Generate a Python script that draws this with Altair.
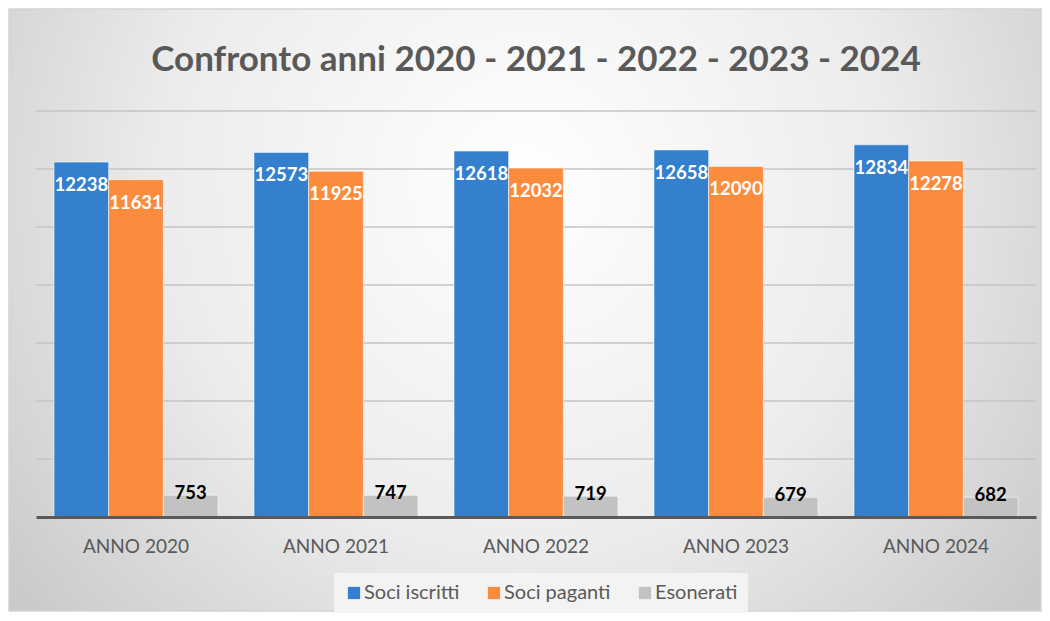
import altair as alt
import pandas as pd

YEARS = ["ANNO 2020", "ANNO 2021", "ANNO 2022", "ANNO 2023", "ANNO 2024"]
SERIES = ["Soci iscritti", "Soci paganti", "Esonerati"]
ISCRITTI = [12238, 12573, 12618, 12658, 12834]
PAGANTI = [11631, 11925, 12032, 12090, 12278]
ESONERATI = [753, 747, 719, 679, 682]
GRID_TICKS = [2000, 4000, 6000, 8000, 10000, 12000, 14000]
COLORS = ["#3480cf", "#fb8c3e", "#c2c2c2"]
TITLE = "Confronto anni 2020 - 2021 - 2022 - 2023 - 2024"

rows = []
for i, y in enumerate(YEARS):
    for s, vals in zip(SERIES, [ISCRITTI, PAGANTI, ESONERATI]):
        rows.append({"anno": y, "serie": s, "valore": vals[i]})
df = pd.DataFrame(rows)

FONT = "Lato"
W, H = 1000, 406

yscale = alt.Scale(domain=[0, 14000], nice=False, zero=True)
xenc = alt.X(
    "anno:N",
    scale=alt.Scale(domain=YEARS, paddingInner=0.18, paddingOuter=0.09),
    axis=alt.Axis(
        title=None, labelAngle=0, ticks=False, labelPadding=20,
        labelFont=FONT, labelFontSize=19, labelColor="#595959",
        domainColor="#595959", domainWidth=3, zindex=1,
    ),
)
xoff = alt.XOffset("serie:N", scale=alt.Scale(domain=SERIES, paddingInner=0.0))

bg = alt.Chart(alt.Data(values=[{"k": 1}])).mark_rect(
    fill={
        "gradient": "radial",
        "x1": 0.5, "y1": 0.38, "r1": 0.0,
        "x2": 0.5, "y2": 0.38, "r2": 0.78,
        "stops": [
            {"offset": 0.0, "color": "#ffffff"},
            {"offset": 0.45, "color": "#ececec"},
            {"offset": 1.0, "color": "#b8b8b8"},
        ],
    },
    stroke="#d4d4d4", strokeWidth=1.5,
).encode(
    x=alt.value(-27), x2=alt.value(1005), y=alt.value(-102), y2=alt.value(500)
)

grid = alt.Chart(pd.DataFrame({"v": GRID_TICKS})).mark_rule(
    color="#c4c4c4", strokeWidth=1.3
).encode(
    y=alt.Y("v:Q", scale=yscale, axis=None),
    x=alt.value(0), x2=alt.value("width"),
)

bars = alt.Chart(df).mark_bar(stroke="#ffffff", strokeOpacity=0.55, strokeWidth=1).encode(
    x=xenc,
    xOffset=xoff,
    y=alt.Y("valore:Q", scale=yscale, axis=None),
    color=alt.Color(
        "serie:N",
        scale=alt.Scale(domain=SERIES, range=COLORS),
        legend=alt.Legend(
            title=None, orient="none", direction="horizontal",
            legendX=298, legendY=462,
            symbolType="square", symbolSize=150, symbolStrokeWidth=0,
            labelFont=FONT, labelFontSize=20, labelColor="#595959",
            columnPadding=24, labelOffset=0, padding=10,
            fillColor="#f3f3f3",
        ),
    ),
)

top_labels = alt.Chart(df).transform_filter(
    alt.datum.serie != "Esonerati"
).mark_text(
    font=FONT, fontSize=18.5, fontWeight="bold", color="white",
    baseline="middle", dy=23,
).encode(
    x=xenc, xOffset=xoff,
    y=alt.Y("valore:Q", scale=yscale, axis=None),
    text=alt.Text("valore:Q", format="d"),
)

gray_labels = alt.Chart(df).transform_filter(
    alt.datum.serie == "Esonerati"
).mark_text(
    font=FONT, fontSize=18.5, fontWeight="bold", color="black",
    baseline="middle", dy=-2,
).encode(
    x=xenc, xOffset=xoff,
    y=alt.Y("valore:Q", scale=yscale, axis=None),
    text=alt.Text("valore:Q", format="d"),
)

chart = alt.layer(bg, grid, bars, top_labels, gray_labels).properties(
    width=W, height=H,
    padding=0,
    title=alt.TitleParams(
        TITLE, font=FONT, fontSize=35, fontWeight="bold", color="#595959",
        anchor="middle", baseline="alphabetic", offset=-98,
    ),
).configure_view(stroke=None)

chart.save("out.html", embed_options={"renderer": "svg", "actions": False})
